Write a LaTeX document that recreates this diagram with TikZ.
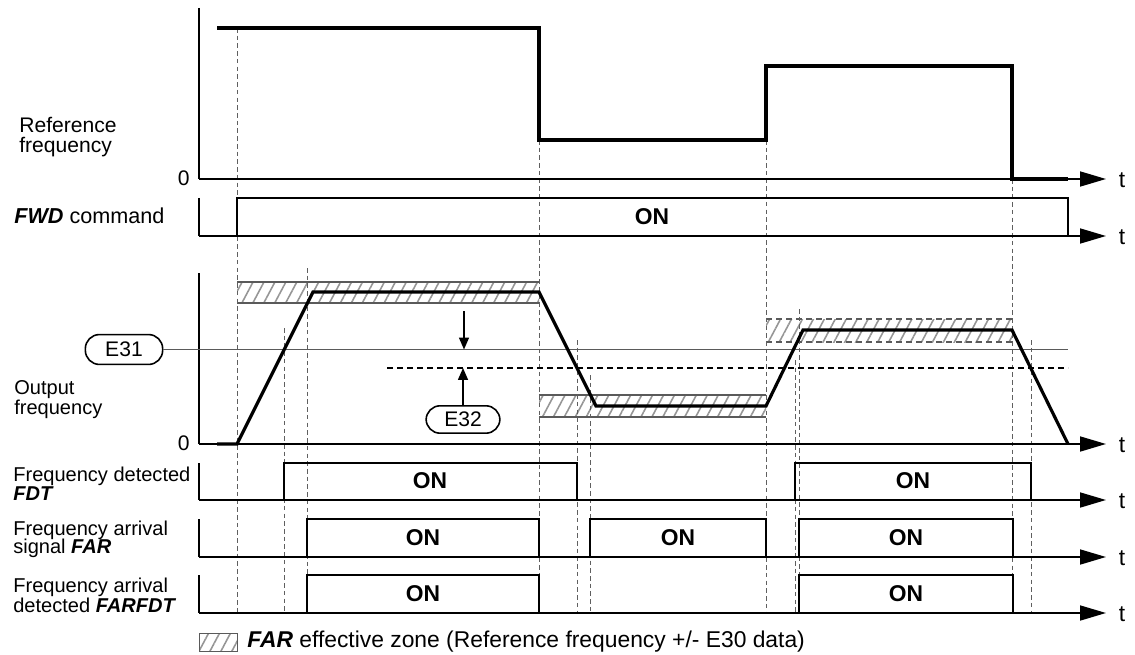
\documentclass[tikz,border=0pt]{standalone}
\usepackage{fontspec}
\setmainfont{Liberation Sans}
\usetikzlibrary{arrows.meta,patterns.meta}
\definecolor{guideclr}{RGB}{95,95,95}
\definecolor{hatchclr}{RGB}{150,150,150}
\definecolor{edgeclr}{RGB}{90,90,90}
\tikzset{
    taxis/.style={line width=1.1pt,-{Triangle[length=14.8pt,width=8.5pt]}},
    stub/.style={line width=1.1pt},
    sig/.style={line width=1.8pt,line join=miter},
    onbox/.style={line width=1.1pt},
    guide/.style={draw=guideclr,line width=0.55pt,dash pattern=on 2.6pt off 1.8pt},
    level/.style={line width=0.7pt,dash pattern=on 3.4pt off 2.3pt},
    zone/.style={pattern={Lines[angle=62,distance=5.5pt,line width=0.9pt]},pattern color=hatchclr},
    zoneedge/.style={draw=edgeclr,line width=0.7pt},
    thinline/.style={draw=edgeclr,line width=0.6pt},
    parr/.style={line width=0.8pt,-{Triangle[length=6.8pt,width=5.7pt]}},
    parm/.style={draw,line width=0.9pt,rounded corners=8pt,inner sep=0pt,minimum width=44pt,minimum height=17pt},
    lbl/.style={anchor=base west,inner sep=0pt,font=\fontsize{11.4}{13}\selectfont},
    ontxt/.style={font=\fontsize{13}{15}\selectfont\bfseries},
    tlbl/.style={font=\fontsize{13}{15}\selectfont},
}

\begin{document}
\begin{tikzpicture}[x=0.02cm,y=-0.02cm,every node/.style={font=\fontsize{12}{14}\selectfont}]
\useasboundingbox (0,0) rectangle (1135,655);

% FAR zones
\fill[zone] (237,282) rectangle (539,303);
\draw[zoneedge] (237,282) -- (539,282) (237,303) -- (539,303);
\fill[zone] (539,395) rectangle (766,417);
\draw[zoneedge] (539,395) -- (766,395) (539,417) -- (766,417);
\fill[zone] (766,319) rectangle (1012,342);
\draw[zoneedge,dash pattern=on 3.4pt off 2.3pt] (766,319) -- (1012,319) (766,342) -- (1012,342);

% guides
\draw[guide] (237,28) -- (237,613);
\draw[guide] (284,328) -- (284,613);
\draw[guide] (307,268) -- (307,613);
\draw[guide] (539,140) -- (539,613);
\draw[guide] (577,340) -- (577,613);
\draw[guide] (590,375) -- (590,613);
\draw[guide] (766,140) -- (766,613);
\draw[guide] (795,360) -- (795,613);
\draw[guide] (799,309) -- (799,613);
\draw[guide] (1012,179) -- (1012,613);
\draw[guide] (1031,340) -- (1031,613);

% reference frequency
\draw[stub] (199,8) -- (199,179);
\draw[taxis] (199,179) -- (1106,179);
\draw[sig] (217,28) -- (539,28) -- (539,140) -- (766,140) -- (766,66) -- (1012,66) -- (1012,179) -- (1068,179);
\node[lbl,font=\fontsize{12}{14}\selectfont] (ref1) at (19,133) {Reference};
\node[lbl,font=\fontsize{12}{14}\selectfont] (ref2) at (19,153) {frequency};
\node[anchor=east,inner sep=0pt] (zero1) at (190,178) {0};
\node[tlbl] (t1) at (1122,180) {t};

% FWD
\draw[stub] (199,198) -- (199,236);
\draw[taxis] (199,236) -- (1106,236);
\draw[onbox] (237,236) -- (237,198) -- (1068,198) -- (1068,236);
\node[ontxt] (onfwd) at (652,217) {ON};
\node[lbl,font=\fontsize{12.3}{14}\selectfont] (fwd) at (14,223) {\textbf{\textit{FWD}} command};
\node[tlbl] (t2) at (1122,237) {t};

% output frequency
\draw[stub] (199,273) -- (199,444);
\draw[taxis] (199,444) -- (1106,444);
\node[parm] (e31) at (124,349.5) {E31};
\coordinate (e31end) at (1068,349.5);
\draw[thinline] (e31.east) -- (e31end);
\coordinate (lvla) at (387,368);
\coordinate (lvlb) at (1068,368);
\draw[level] (lvla) -- (lvlb);
\draw[sig] (217,444) -- (237,444) -- (313,292) -- (539,292) -- (596,406) -- (766,406) -- (803,330) -- (1012,330) -- (1068,444);
\coordinate (gapt) at (464,311);
\coordinate (gapb) at (464,349.5);
\draw[parr] (gapt) -- (gapb);
\node[parm,minimum width=42pt,minimum height=15.6pt] (e32) at (463,419.5) {E32};
\coordinate (e32tip) at (463,368);
\draw[parr] (e32.north) -- (e32tip);
\node[lbl] (out1) at (14,394) {Output};
\node[lbl] (out2) at (14,414) {frequency};
\node[anchor=east,inner sep=0pt] (zero2) at (190,443) {0};
\node[tlbl] (t3) at (1122,445) {t};

% FDT
\draw[stub] (199,463) -- (199,500);
\draw[taxis] (199,500) -- (1106,500);
\draw[onbox] (284,500) -- (284,463) -- (577,463) -- (577,500);
\draw[onbox] (795,500) -- (795,463) -- (1031,463) -- (1031,500);
\node[ontxt] (onfdt1) at (430,481) {ON};
\node[ontxt] (onfdt2) at (913,481) {ON};
\node[lbl] (fdt1) at (13,481) {Frequency detected};
\node[lbl] (fdt2) at (13,500) {\textbf{\textit{FDT}}};
\node[tlbl] (t4) at (1122,501) {t};

% FAR
\draw[stub] (199,519) -- (199,557);
\draw[taxis] (199,557) -- (1106,557);
\draw[onbox] (307,557) -- (307,519) -- (539,519) -- (539,557);
\draw[onbox] (590,557) -- (590,519) -- (766,519) -- (766,557);
\draw[onbox] (799,557) -- (799,519) -- (1013,519) -- (1013,557);
\node[ontxt] (onfar1) at (423,538) {ON};
\node[ontxt] (onfar2) at (678,538) {ON};
\node[ontxt] (onfar3) at (906,538) {ON};
\node[lbl] (far1) at (13,535) {Frequency arrival};
\node[lbl] (far2) at (13,553) {signal \textbf{\textit{FAR}}};
\node[tlbl] (t5) at (1122,558) {t};

% FARFDT
\draw[stub] (199,575) -- (199,613);
\draw[taxis] (199,613) -- (1106,613);
\draw[onbox] (307,613) -- (307,575) -- (539,575) -- (539,613);
\draw[onbox] (799,613) -- (799,575) -- (1013,575) -- (1013,613);
\node[ontxt] (onff1) at (423,594) {ON};
\node[ontxt] (onff2) at (906,594) {ON};
\node[lbl] (ff1) at (13,592) {Frequency arrival};
\node[lbl] (ff2) at (13,612) {detected \textbf{\textit{FARFDT}}};
\node[tlbl] (t6) at (1122,614) {t};

% legend
\draw[zone,draw=edgeclr,line width=0.5pt] (199,633) rectangle (237,651);
\node[anchor=west,inner sep=0pt,font=\fontsize{13}{15}\selectfont] (legend) at (247,642) {\textbf{\textit{FAR}} effective zone (Reference frequency +/- E30 data)};
\end{tikzpicture}
\end{document}
